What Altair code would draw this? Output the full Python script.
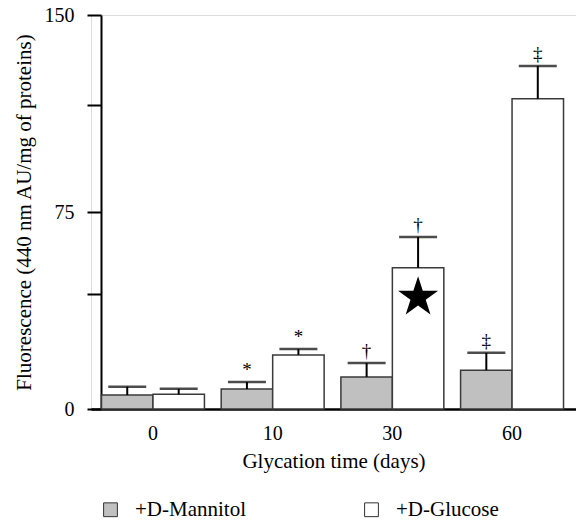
import altair as alt
import pandas as pd

times = ["0", "10", "30", "60"]
series_names = ["+D-Mannitol", "+D-Glucose"]
mannitol = [5.3, 7.6, 12.2, 14.8]
mannitol_err = [3.2, 2.7, 5.3, 6.6]
glucose = [5.6, 20.6, 53.8, 118.1]
glucose_err = [2.1, 2.2, 11.7, 12.5]
mannitol_marks = ["", "*", "†", "‡"]
glucose_marks = ["", "*", "†", "‡"]
star_time = ["30"]
star_series = ["+D-Glucose"]
star_value = [42.5]
y_tick_values = [0, 43.8, 75, 115.7, 150]
y_tick_labels = ["0", "", "75", "", "150"]

rows = []
for i, t in enumerate(times):
    rows.append({"time": t, "series": series_names[0], "value": mannitol[i],
                 "hi": mannitol[i] + mannitol_err[i], "mark": mannitol_marks[i]})
    rows.append({"time": t, "series": series_names[1], "value": glucose[i],
                 "hi": glucose[i] + glucose_err[i], "mark": glucose_marks[i]})
df = pd.DataFrame(rows)
star_df = pd.DataFrame({"time": star_time, "series": star_series, "value": star_value})

FONT = "Liberation Serif"

label_expr = " : ".join(
    [f"datum.value == {v} ? '{l}'" for v, l in zip(y_tick_values, y_tick_labels)]
) + " : ''"

x_enc = alt.X(
    "time:N", sort=times,
    scale=alt.Scale(paddingInner=0.14, paddingOuter=0.096, align=0.457),
    axis=alt.Axis(title="Glycation time (days)", labelAngle=0, ticks=False,
                  domainWidth=2.5, domainColor="black", labelPadding=14,
                  labelFont=FONT, labelFontSize=20, labelColor="black",
                  titleFont=FONT, titleFontSize=21, titleFontWeight="normal",
                  titleColor="black", titlePadding=7),
)
xo_enc = alt.XOffset("series:N", sort=series_names,
                     scale=alt.Scale(paddingInner=0, paddingOuter=0))
y_scale = alt.Scale(domain=[0, 150], nice=False, zero=True)

bars = alt.Chart(df).mark_bar(stroke="#3a3a3a", strokeWidth=1.5).encode(
    x=x_enc, xOffset=xo_enc,
    y=alt.Y("value:Q", scale=y_scale,
            axis=alt.Axis(values=y_tick_values, labelExpr=label_expr, grid=False,
                          tickSize=14, tickWidth=2, tickColor="black",
                          domainWidth=2, domainColor="black", offset=-10,
                          labelFont=FONT, labelFontSize=20, labelColor="black",
                          labelPadding=13,
                          title="Fluorescence (440 nm AU/mg of proteins)",
                          titleFont=FONT, titleFontSize=21, titleFontWeight="normal",
                          titleColor="black", titlePadding=10)),
    color=alt.Color("series:N", sort=series_names,
                    scale=alt.Scale(domain=series_names, range=["#c0c0c0", "#ffffff"]),
                    legend=alt.Legend(title=None, orient="none", legendX=9, legendY=484,
                                      direction="horizontal", columns=2,
                                      columnPadding=115, symbolType="square",
                                      symbolSize=190, symbolStrokeColor="#333333",
                                      symbolStrokeWidth=1, labelOffset=14,
                                      labelFont=FONT, labelFontSize=21,
                                      labelColor="black", padding=0)),
)

stems = alt.Chart(df).mark_rule(color="black", strokeWidth=2).encode(
    x=x_enc, xOffset=xo_enc, y=alt.Y("value:Q", scale=y_scale), y2="hi:Q"
)
caps = alt.Chart(df).mark_tick(color="black", thickness=2.5, size=38, orient="horizontal").encode(
    x=x_enc, xOffset=xo_enc, y=alt.Y("hi:Q", scale=y_scale)
)
marks = alt.Chart(df).mark_text(font=FONT, fontSize=19, color="black",
                                baseline="alphabetic", dy=-6).encode(
    x=x_enc, xOffset=xo_enc, y=alt.Y("hi:Q", scale=y_scale), text="mark:N"
)
star_path = ("M0,-1 L0.2245,-0.309 L0.951,-0.309 L0.363,0.118 L0.588,0.809 "
             "L0,0.382 L-0.588,0.809 L-0.363,0.118 L-0.951,-0.309 L-0.2245,-0.309 Z")
star = alt.Chart(star_df).mark_point(shape=star_path, size=1770, filled=True,
                                     fill="black", opacity=1).encode(
    x=x_enc, xOffset=xo_enc, y=alt.Y("value:Q", scale=y_scale)
)

chart = alt.layer(bars, stems, caps, marks, star).properties(
    width=485, height=394,
    autosize=alt.AutoSizeParams(type="none"),
    padding={"left": 91, "top": 15, "right": 0, "bottom": 111},
).configure_view(stroke=None).configure(background="white", font=FONT)

chart.save("out.html", embed_options={"renderer": "svg", "actions": False})
